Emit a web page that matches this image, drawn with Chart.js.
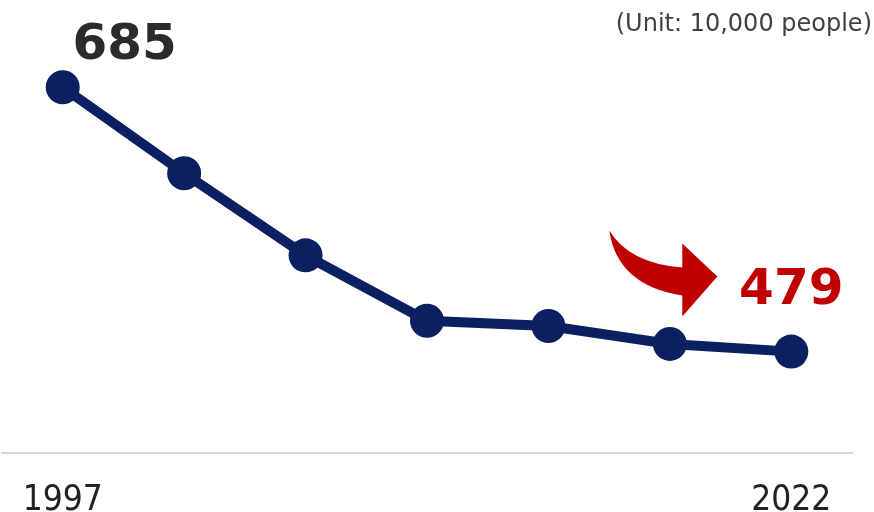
<!DOCTYPE html>
<html>
<head>
<meta charset="utf-8">
<script src="https://cdn.jsdelivr.net/npm/chart.js@4/dist/chart.umd.min.js"></script>
<style>
  html, body { margin: 0; padding: 0; background: #fff; }
  #wrap { width: 874px; height: 512px; position: relative; }
</style>
</head>
<body>
<div id="wrap"><canvas id="chart"></canvas></div>
<script>
// data (unit: 10,000 people)
const tickLabels = ['1997', '', '', '', '', '', '2022'];
const workers = [685, 618, 554, 503, 499, 485, 479];
const unitText = '(Unit: 10,000 people)';

const navy = '#0a2060';
const red = '#c00000';

// labels for first / last value + red curved arrow
const notes = {
  id: 'notes',
  afterDatasetsDraw(chart) {
    const ctx = chart.ctx;
    const pts = chart.getDatasetMeta(0).data;
    const first = pts[0], last = pts[pts.length - 1];
    ctx.save();

    ctx.font = '24px "DejaVu Sans", Verdana, sans-serif';
    ctx.fillStyle = '#404040';
    ctx.textAlign = 'right';
    ctx.textBaseline = 'middle';
    ctx.fillText(unitText, 872, 25);

    ctx.font = 'bold 50px "DejaVu Sans", Verdana, sans-serif';
    ctx.textAlign = 'center';
    ctx.fillStyle = '#2b2b2b';
    ctx.fillText(String(workers[0]), first.x + 62, first.y - 41);

    ctx.fillStyle = red;
    ctx.fillText(String(workers[workers.length - 1]), last.x, last.y - 61);

    // arrow, placed relative to the last point
    const ox = last.x, oy = last.y;
    const p = (dx, dy) => [ox + dx, oy + dy];
    ctx.beginPath();
    ctx.moveTo(...p(-182, -121));                              // tail tip
    ctx.quadraticCurveTo(...p(-162, -88), ...p(-109, -84));   // upper edge
    ctx.lineTo(...p(-109, -108));                              // head top
    ctx.lineTo(...p(-74, -75));                                // tip
    ctx.lineTo(...p(-109, -35));                               // head bottom
    ctx.lineTo(...p(-109, -56));
    ctx.quadraticCurveTo(...p(-174, -66), ...p(-182, -121));  // lower edge
    ctx.closePath();
    ctx.fillStyle = red;
    ctx.fill();

    ctx.restore();
  }
};

new Chart(document.getElementById('chart'), {
  type: 'line',
  data: {
    labels: tickLabels,
    datasets: [{
      data: workers,
      borderColor: navy,
      backgroundColor: navy,
      borderWidth: 10,
      pointRadius: 17,
      pointHoverRadius: 17,
      pointBackgroundColor: navy,
      pointBorderWidth: 0,
      tension: 0,
      fill: false,
      clip: false
    }]
  },
  options: {
    responsive: true,
    maintainAspectRatio: false,
    animation: false,
    layout: { autoPadding: false, padding: { left: 2, right: 22, top: 68, bottom: 0 } },
    plugins: {
      legend: { display: false },
      tooltip: { enabled: false }
    },
    scales: {
      x: {
        offset: true,
        grid: { display: false, drawTicks: false },
        border: { display: true, color: '#d9d9d9', width: 2 },
        ticks: {
          autoSkip: false,
          maxRotation: 0,
          padding: 30,
          color: '#222',
          font: { family: '"DejaVu Sans Condensed", "DejaVu Sans", sans-serif', size: 35, lineHeight: 1 }
        },
        afterFit(scale) {
          // keep the axis strip fixed and don't let labels pad the sides
          scale.height = 59;
          scale.paddingLeft = 0;
          scale.paddingRight = 0;
        }
      },
      y: {
        display: false,
        min: 400,
        max: 700
      }
    }
  },
  plugins: [notes]
});
</script>
</body>
</html>
